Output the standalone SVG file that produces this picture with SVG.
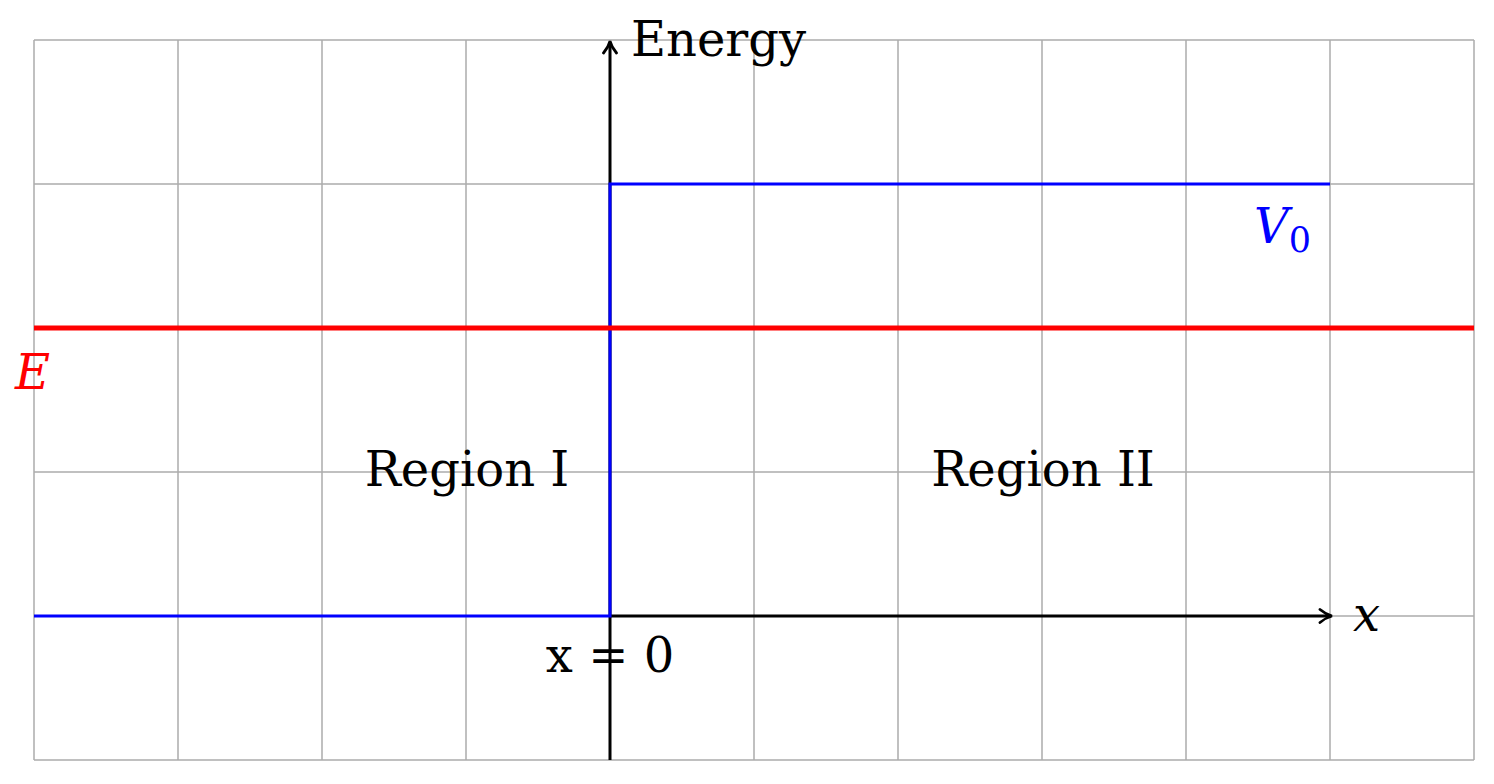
<svg xmlns="http://www.w3.org/2000/svg" width="1494" height="784" viewBox="0 0 1494 784">
<style>
.grid{stroke:#acacac;stroke-width:1.5;fill:none}
.t{font-family:"DejaVu Serif","Liberation Serif",serif;font-size:48px;fill:#000}
.i{font-style:italic}
.axis{stroke:#000;stroke-width:3;fill:none}
</style>
<defs>
<marker id="arr" viewBox="0 0 16 16" refX="13" refY="8" markerWidth="16" markerHeight="16" markerUnits="userSpaceOnUse" orient="auto">
<path d="M2,1.5 Q8,6.5 14,8 Q8,9.5 2,14.5" fill="none" stroke="#000" stroke-width="2.8" stroke-linecap="round"/>
</marker>
</defs>
<rect width="1494" height="784" fill="#fff"/>
<g id="grid" class="grid">
<path d="M34,40V760M178,40V760M322,40V760M466,40V760M610,40V760M754,40V760M898,40V760M1042,40V760M1186,40V760M1330,40V760M1474,40V760"/>
<path d="M34,40H1474M34,184H1474M34,328H1474M34,472H1474M34,616H1474M34,760H1474"/>
</g>
<g id="connectors">
<line class="axis" x1="610" y1="760" x2="610" y2="42" marker-end="url(#arr)"/>
<line class="axis" x1="610" y1="616" x2="1331" y2="616" marker-end="url(#arr)"/>
<path d="M34,616H610V184H1330" fill="none" stroke="#0000ff" stroke-width="3"/>
<line x1="34" y1="328" x2="1474" y2="328" stroke="#ff0000" stroke-width="5"/>
</g>
<g id="label-energy"><text class="t" x="631" y="56">Energy</text></g>
<g id="label-x"><text class="t i" x="1353" y="631">x</text></g>
<g id="label-V0"><text class="t" x="1254" y="243" style="fill:#0000ff"><tspan class="i">V</tspan><tspan font-size="35" dy="9">0</tspan></text></g>
<g id="label-E"><text class="t i" x="15" y="389" style="fill:#ff0000">E</text></g>
<g id="region1"><text class="t" x="467" y="486" text-anchor="middle">Region I</text></g>
<g id="region2"><text class="t" x="1043" y="486" text-anchor="middle">Region II</text></g>
<g id="label-x0"><text class="t" x="610" y="672" text-anchor="middle">x = 0</text></g>
</svg>
